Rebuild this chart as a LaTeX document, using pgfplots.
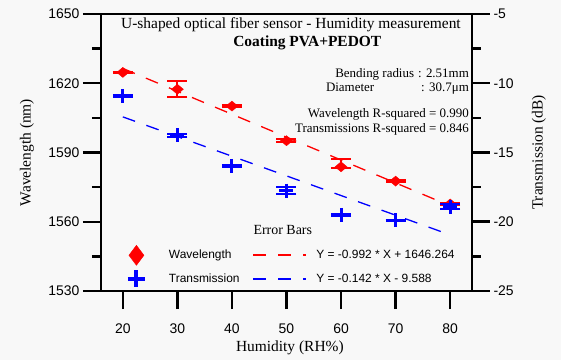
\documentclass[border=0pt]{standalone}
\usepackage{pgfplots}
\pgfplotsset{compat=1.18}
\usepackage{fontspec}
\setmainfont{Liberation Serif}
\setsansfont{Liberation Sans}
\definecolor{bg}{RGB}{248,248,248}
\pgfplotsset{
  redline/.style={legend image code/.code={\draw[red, line width=1.8bp, dash pattern=on 13bp off 12bp] (0bp,0bp) -- (53bp,0bp);}},
  blueline/.style={legend image code/.code={\draw[blue, line width=1.8bp, dash pattern=on 13bp off 12bp] (0bp,0bp) -- (53bp,0bp);}},
}
\begin{document}
\begin{tikzpicture}
\fill[bg] (-101bp,-69bp) rectangle (460bp,291bp);
\useasboundingbox (-101bp,-69bp) rectangle (460bp,291bp);
\pgfplotsset{
  common/.style={
    scale only axis, width=371bp, height=277bp,
    xmin=16, xmax=84,
    tick align=outside,
    major tick length=18bp, minor tick length=9bp,
    every tick/.style={black, line width=2.5bp},
    axis line style={line width=2.5bp},
    tick label style={font=\fontsize{14}{16}\selectfont\sffamily},
    xticklabel style={yshift=-11bp},
    /pgf/number format/assume math mode=true,
    /pgf/number format/1000 sep={},
    label style={font=\fontsize{15.5}{18}\selectfont},
  }
}
\begin{axis}[common,
  ymin=1530, ymax=1650, ytick={1530,1560,...,1650}, minor y tick num=1,
  xtick={20,30,...,80}, xtick pos=left, ytick pos=left,
  xlabel={Humidity (RH\%)}, ylabel={Wavelength (nm)},
  xlabel style={at={(axis description cs:0.509,-0.206)}, anchor=center},
  ylabel style={at={(axis description cs:-0.1995,0.5)}, anchor=center},
  legend columns=2, legend cell align=left,
  legend style={draw=none, fill=none, font=\fontsize{12}{14}\selectfont\sffamily,
    at={(axis description cs:0.064,0.173)}, anchor=north west, row sep=5bp,
    /tikz/column 1/.style={column sep=22bp},
    /tikz/column 2/.style={column sep=11bp},
    /tikz/column 3/.style={column sep=7bp}},
]
\addlegendimage{only marks, mark=diamond*, red, mark size=10bp}
\addlegendentry{Wavelength}
\addlegendimage{redline}
\addlegendentry{Y = -0.992 * X + 1646.264}
\addlegendimage{only marks, mark=+, blue, mark size=8.5bp, mark options={line width=4bp}}
\addlegendentry{Transmission}
\addlegendimage{blueline}
\addlegendentry{Y = -0.142 * X - 9.588}

\addplot[forget plot, red, line width=1.3bp, dash pattern=on 13bp off 12bp]
  coordinates {(20,1626.42) (80,1566.90)};
\addplot[forget plot, red, only marks, mark=diamond*, mark size=5bp,
  mark options={xscale=1.6},
  error bars/.cd, y dir=both, y explicit,
  error bar style={line width=2bp},
  error mark options={rotate=90, mark size=10bp, line width=2bp}]
  coordinates {
  (20,1624.7) +- (0,0.3)
  (30,1617.4) +- (0,3.4)
  (40,1610.1) +- (0,0.3)
  (50,1595.1) +- (0,0.6)
  (60,1583.8) += (0,3.5) -= (0,0.3)
  (70,1577.6) +- (0,0.3)
  (80,1567.7) +- (0,0.3)
  };

\node[anchor=center, font=\fontsize{15.5}{18}\selectfont] at (rel axis cs:0.512,0.960)
  {U-shaped optical fiber sensor - Humidity measurement};
\node[anchor=center, font=\bfseries\fontsize{15.5}{18}\selectfont] at (rel axis cs:0.556,0.895)
  {Coating PVA+PEDOT};
\node[anchor=east, inner sep=0pt, font=\fontsize{13}{14}\selectfont] at (rel axis cs:0.992,0.780)
  {\begin{tabular}{@{}l@{\hspace{4bp}}r@{}}Bending radius & : 2.51mm\end{tabular}};
\node[anchor=east, inner sep=0pt, font=\fontsize{13}{14}\selectfont] at (rel axis cs:0.992,0.729)
  {\begin{tabular}{@{}l@{\hspace{47bp}}r@{}}Diameter & : 30.7μm\end{tabular}};
\node[anchor=east, inner sep=0pt, font=\fontsize{13}{14}\selectfont] at (rel axis cs:0.992,0.639)
  {Wavelength R-squared = 0.990};
\node[anchor=east, inner sep=0pt, font=\fontsize{13}{14}\selectfont] at (rel axis cs:0.992,0.585)
  {Transmissions R-squared = 0.846};
\node[anchor=center, font=\fontsize{14}{16}\selectfont] at (rel axis cs:0.49,0.22)
  {Error Bars};
\end{axis}

\begin{axis}[common,
  axis y line*=right, axis x line=none,
  ymin=-25, ymax=-5, ytick={-25,-20,...,-5}, minor y tick num=1,
  ylabel={Transmission (dB)},
  ylabel style={at={(axis description cs:1.1806,0.5)}, anchor=center, rotate=0},
]
\addplot[blue, line width=1.3bp, dash pattern=on 13bp off 12bp]
  coordinates {(20,-12.428) (80,-20.948)};
\addplot[blue, only marks, mark=+, mark size=7bp,
  mark options={line width=3bp},
  error bars/.cd, y dir=both, y explicit,
  error bar style={line width=2bp},
  error mark options={rotate=90, mark size=10bp, line width=2bp}]
  coordinates {
  (20,-10.92) +- (0,0.05)
  (30,-13.76) +- (0,0.1)
  (40,-15.97) +- (0,0.05)
  (50,-17.76) +- (0,0.25)
  (60,-19.50) +- (0,0.05)
  (70,-19.90) +- (0,0.05)
  (80,-18.90) +- (0,0.15)
  };
\end{axis}
\end{tikzpicture}
\end{document}
